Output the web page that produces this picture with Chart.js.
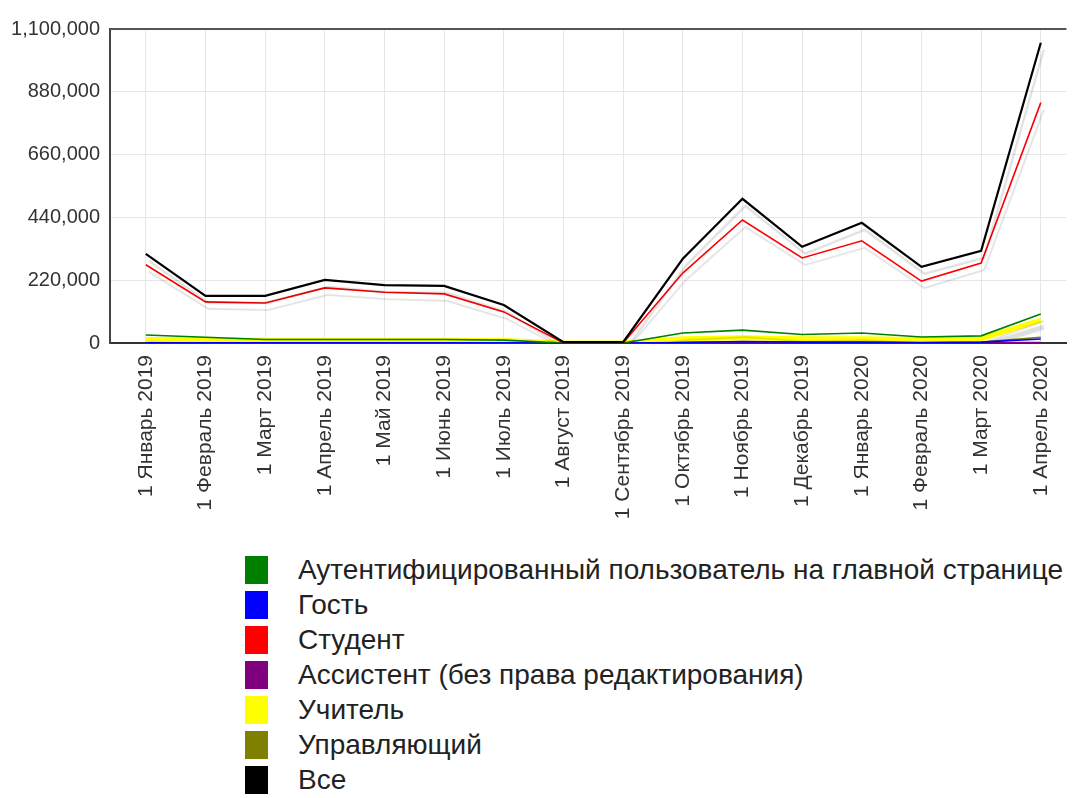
<!DOCTYPE html>
<html lang="ru">
<head>
<meta charset="utf-8">
<script src="https://cdn.jsdelivr.net/npm/chart.js@4.4.1/dist/chart.umd.min.js"></script>
<style>
    html, body { margin: 0; padding: 0; background: #fff; }
    #wrap { position: relative; width: 1078px; height: 798px; }
    #chartBox { position: absolute; left: 0; top: 0; width: 1078px; height: 535px; }
    #legend { position: absolute; left: 245px; top: 552px; font-family: "Liberation Sans", Arial, sans-serif; font-size: 28px; color: #222; }
    .row { height: 35px; display: flex; align-items: center; }
    .sw { width: 23px; height: 28px; margin-right: 30px; flex: none; }
</style>
</head>
<body>
<div id="wrap">
    <div id="chartBox"><canvas id="myChart"></canvas></div>
    <div id="legend"></div>
</div>
<script>
document.addEventListener('DOMContentLoaded', () => {
    'use strict';

    const months = [
        '1 Январь 2019', '1 Февраль 2019', '1 Март 2019', '1 Апрель 2019',
        '1 Май 2019', '1 Июнь 2019', '1 Июль 2019', '1 Август 2019',
        '1 Сентябрь 2019', '1 Октябрь 2019', '1 Ноябрь 2019', '1 Декабрь 2019',
        '1 Январь 2020', '1 Февраль 2020', '1 Март 2020', '1 Апрель 2020'
    ];

    const yTicks = [0, 220000, 440000, 660000, 880000, 1100000];

    const authUser  = [28000, 20000, 12000, 12000, 12000, 12000, 10000, 0, 0, 35000, 45000, 30000, 35000, 21000, 25000, 102000];
    const guest     = [1000, 1000, 1000, 1000, 1000, 1000, 1000, 0, 0, 2000, 5000, 3000, 3000, 2000, 3000, 14000];
    const student   = [274000, 144000, 140000, 193000, 178000, 172000, 109000, 0, 0, 245000, 431000, 298000, 358000, 217000, 280000, 842000];
    const assistant = [500, 500, 500, 500, 500, 500, 500, 0, 0, 500, 1000, 500, 500, 500, 500, 2000];
    const teacher   = [12000, 11000, 10000, 10000, 10000, 10000, 9000, 0, 0, 15000, 18000, 15000, 15000, 12000, 15000, 80000];
    const manager   = [3000, 3000, 3000, 3000, 3000, 3000, 2000, 0, 0, 3000, 4000, 3000, 3000, 3000, 3000, 20000];
    const allUsers  = [312000, 165000, 165000, 221000, 203000, 200000, 133000, 3000, 3000, 295000, 505000, 337000, 421000, 267000, 323000, 1052000];

    const seriesNames = [
        'Аутентифицированный пользователь на главной странице',
        'Гость',
        'Студент',
        'Ассистент (без права редактирования)',
        'Учитель',
        'Управляющий',
        'Все'
    ];
    const seriesColors = ['#008000', '#0000ff', '#ff0000', '#800080', '#ffff00', '#808000', '#000000'];
    const seriesData = [authUser, guest, student, assistant, teacher, manager, allUsers];

    const toPoints = vals => vals.map((v, i) => ({ x: i, y: v }));

    // faint offset shadow like in the original screenshot
    const shadowPlugin = {
        id: 'shadow',
        beforeDatasetDraw(chart) {
            const c = chart.ctx;
            c.save();
            c.shadowColor = 'rgba(0,0,0,0.13)';
            c.shadowOffsetX = 3;
            c.shadowOffsetY = 7;
            c.shadowBlur = 1;
        },
        afterDatasetDraw(chart) {
            chart.ctx.restore();
        }
    };

    // top border of the plot box
    const framePlugin = {
        id: 'frame',
        afterDraw(chart) {
            const { ctx, chartArea } = chart;
            ctx.save();
            ctx.strokeStyle = '#555';
            ctx.lineWidth = 2;
            ctx.beginPath();
            ctx.moveTo(chartArea.left, chartArea.top);
            ctx.lineTo(chartArea.right, chartArea.top);
            ctx.stroke();
            ctx.restore();
        }
    };

    const datasets = seriesNames.map((name, k) => ({
        label: name,
        data: toPoints(seriesData[k]),
        borderColor: seriesColors[k],
        backgroundColor: seriesColors[k],
        borderWidth: k === 4 ? 5 : (k === 6 ? 2.2 : 1.6),
        pointRadius: 0,
        tension: 0,
        order: k === 6 ? 0 : (k === 2 ? 1 : 2 + k)
    }));

    const ctx = document.getElementById('myChart').getContext('2d');
    const myChart = new Chart(ctx, {
        type: 'line',
        data: { datasets: datasets },
        options: {
            responsive: true,
            maintainAspectRatio: false,
            animation: false,
            layout: { padding: { top: 29, right: 0, left: 0, bottom: 0 } },
            scales: {
                x: {
                    type: 'linear',
                    min: -0.6,
                    max: 15.43,
                    afterBuildTicks: s => { s.ticks = months.map((m, i) => ({ value: i })); },
                    afterFit: s => { s.height = 192; },
                    grid: { color: '#e6e6e6', drawTicks: false },
                    border: { color: '#333', width: 2 },
                    ticks: {
                        autoSkip: false,
                        minRotation: 90,
                        maxRotation: 90,
                        padding: 12,
                        color: '#333',
                        font: { family: 'Liberation Sans', size: 21 },
                        callback: v => months[v]
                    }
                },
                y: {
                    min: 0,
                    max: 1100000,
                    afterBuildTicks: s => { s.ticks = yTicks.map(v => ({ value: v })); },
                    afterFit: s => { s.width = 110; },
                    grid: { color: '#e6e6e6', drawTicks: false },
                    border: { color: '#444', width: 2 },
                    ticks: {
                        padding: 10,
                        color: '#333',
                        font: { family: 'Liberation Sans', size: 20 },
                        callback: v => v.toLocaleString('en-US')
                    }
                }
            },
            plugins: {
                legend: { display: false },
                tooltip: { enabled: false }
            }
        },
        plugins: [shadowPlugin, framePlugin]
    });

    const legend = document.getElementById('legend');
    seriesNames.forEach((name, k) => {
        const row = document.createElement('div');
        row.className = 'row';
        const sw = document.createElement('div');
        sw.className = 'sw';
        sw.style.background = seriesColors[k];
        const txt = document.createElement('span');
        txt.textContent = name;
        row.appendChild(sw);
        row.appendChild(txt);
        legend.appendChild(row);
    });
});
</script>
</body>
</html>
